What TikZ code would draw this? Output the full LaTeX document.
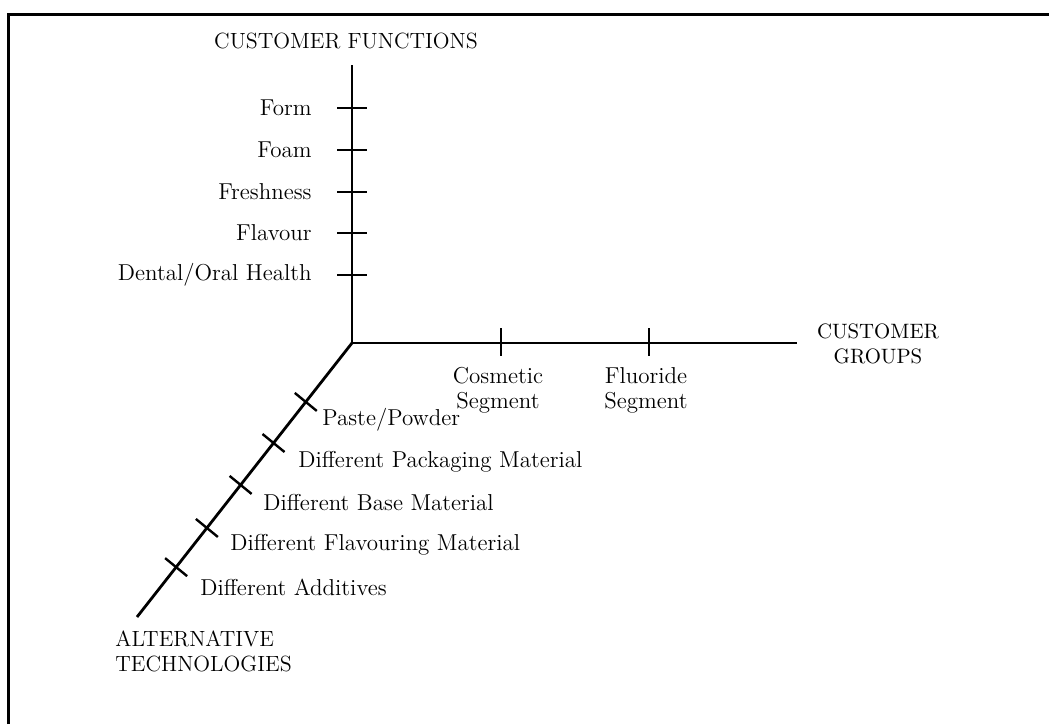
\documentclass[tikz,border=0pt]{standalone}
\usepackage{tikz}
\usetikzlibrary{calc}
\usetikzlibrary{positioning}

\begin{document}
\begin{tikzpicture}[x=0.5pt,y=-0.5pt,
  every node/.style={font=\fontsize{11.5}{12.5}\selectfont, inner sep=0pt},
  axis/.style={line width=1.4pt},
  tick/.style={line width=1.2pt}]
  \useasboundingbox (0,0) rectangle (1049,724);
  \draw[line width=1.5pt] (8,724) -- (8,14) -- (1049,14);

  \coordinate (O) at (352,343);
  \coordinate (fn) at (352,65);
  \coordinate (gr) at (797,343);
  \coordinate (te) at (137,617);
  \draw[axis] (fn) -- (O) -- (gr);
  \draw[axis] (O) -- (te);

  \node[font=\fontsize{11}{12.5}\selectfont] (fnlabel) at (346,41) {CUSTOMER FUNCTIONS};
  \node[align=center, font=\fontsize{10.4}{12.5}\selectfont] (grlabel) at (878,344) {CUSTOMER\\GROUPS};
  \node[align=left, anchor=north west, font=\fontsize{11}{12.5}\selectfont] (telabel) at (115,630) {ALTERNATIVE\\TECHNOLOGIES};

  \foreach \y/\t [count=\i] in {108/Form, 150/Foam, 192/Freshness, 233/Flavour, 275/{Dental/Oral Health}} {
    \draw[tick] (337,\y) -- (367,\y);
    \node[anchor=east] (fn\i) at (312,\y) {\t};
  }

  \foreach \x/\t [count=\i] in {501/Cosmetic, 649/Fluoride} {
    \draw[tick] (\x,328) -- (\x,356);
    \node[align=center, anchor=north] (gr\i) at (\x-3,367) {\t\\Segment};
  }

  \foreach \p/\t/\lx/\ly [count=\i] in {0.215/{Paste/Powder}/322/420,
      0.365/Different Packaging Material/298/462,
      0.518/Different Base Material/263/503,
      0.675/Different Flavouring Material/230/545,
      0.818/Different Additives/200/587} {
    \coordinate (t\i) at ($(O)!\p!(te)$);
    \draw[tick] ($(t\i)+(-11,-9)$) -- ($(t\i)+(11,9)$);
    \node[anchor=west] (alt\i) at (\lx,\ly) {\t};
  }
\end{tikzpicture}
\end{document}
